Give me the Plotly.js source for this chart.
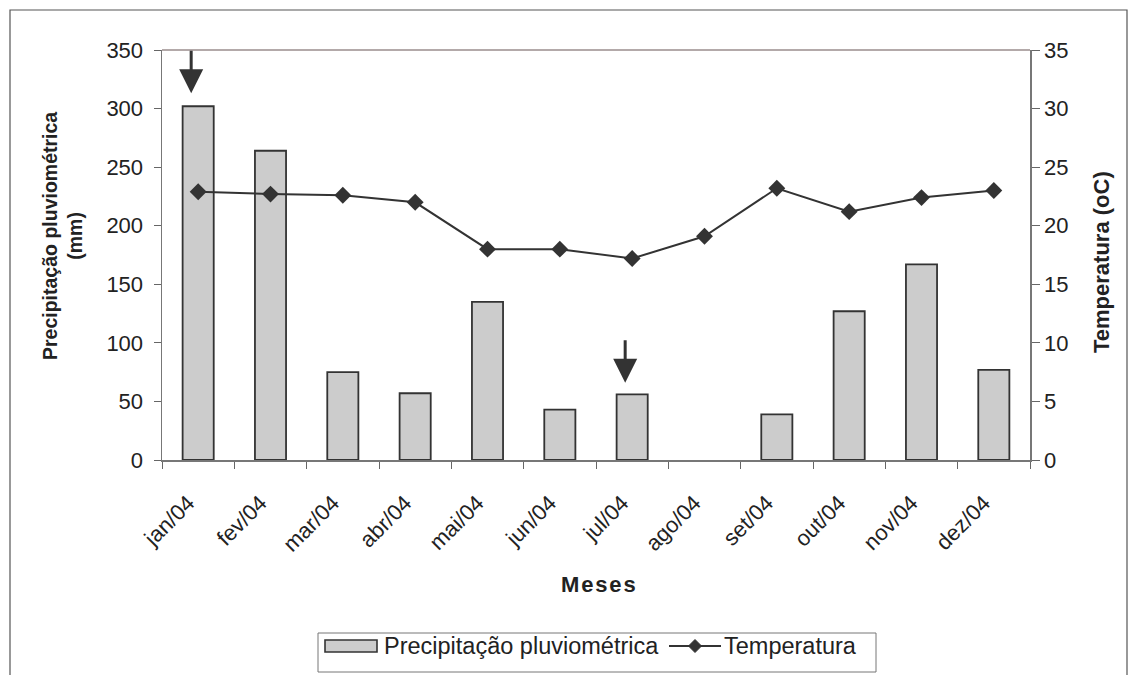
<!DOCTYPE html>
<html>
<head>
<meta charset="utf-8">
<script src="https://cdn.plot.ly/plotly-3.0.1.min.js"></script>
<style>
  html, body { margin: 0; padding: 0; background: #fff; overflow: hidden; }
  #chart { width: 1137px; height: 675px; }
</style>
</head>
<body>
<div id="chart"></div>
<script>
// Monthly rainfall (mm) and mean temperature (oC), 2004
const months = ['jan/04', 'fev/04', 'mar/04', 'abr/04', 'mai/04', 'jun/04',
                'jul/04', 'ago/04', 'set/04', 'out/04', 'nov/04', 'dez/04'];
const precipitation = [302, 264, 75, 57, 135, 43, 56, 0, 39, 127, 167, 77];
const temperature = [22.9, 22.7, 22.6, 22.0, 18.0, 18.0, 17.2, 19.1, 23.2, 21.2, 22.4, 23.0];
const precipTicks = [0, 50, 100, 150, 200, 250, 300, 350];
const tempTicks = [0, 5, 10, 15, 20, 25, 30, 35];
// months highlighted with an arrow, and the arrow tip level (mm)
const markedMonths = ['jan/04', 'jul/04'];
const markedTips = [313, 66];
const seriesNames = ['Precipitação pluviométrica', 'Temperatura'];

const FONT = 'Liberation Sans, Arial, sans-serif';
const INK = '#333333';
const TEXT = '#222222';
const BAR_FILL = '#cccccc';

// plot area in pixels, used to place the boxed legend below the axis
const W = 1137, H = 675;
const M = { l: 162, r: 107, t: 50, b: 215 };
const PW = W - M.l - M.r, PH = H - M.t - M.b;
const px = v => (v - M.l) / PW;          // page x -> paper x
const py = v => (H - M.b - v) / PH;      // page y -> paper y

const traces = [
  {
    type: 'bar',
    name: seriesNames[0],
    x: months,
    y: precipitation,
    yaxis: 'y',
    width: 0.43,
    marker: {
      color: BAR_FILL,
      // a dry month draws no outline along the axis
      line: { color: INK, width: precipitation.map(v => (v > 0 ? 1.8 : 0)) }
    },
    hoverinfo: 'x+y'
  },
  {
    type: 'scatter',
    mode: 'lines+markers',
    name: seriesNames[1],
    x: months,
    y: temperature,
    yaxis: 'y2',
    line: { color: INK, width: 2 },
    marker: { symbol: 'diamond', size: 13, color: INK },
    hoverinfo: 'x+y'
  }
];

const arrows = markedMonths.map((m, i) => ({
  x: m, y: markedTips[i], xref: 'x', yref: 'y',
  xshift: -7,
  text: '', showarrow: true,
  ax: 0, ay: -44,
  arrowhead: 2, arrowsize: 1.6, arrowwidth: 3, arrowcolor: INK
}));

// boxed legend: swatch for the bars, line-with-diamond for the temperature
const legendY = 646;
const dHalfX = 6.5 / PW, dHalfY = 6.5 / PH;
const dCx = px(695), dCy = py(legendY);
const legendShapes = [
  { type: 'rect', xref: 'paper', yref: 'paper',
    x0: px(318), x1: px(876), y0: py(672), y1: py(633),
    line: { color: '#777777', width: 1 }, fillcolor: '#ffffff' },
  { type: 'rect', xref: 'paper', yref: 'paper',
    x0: px(325), x1: px(377), y0: py(652), y1: py(640),
    line: { color: INK, width: 1.6 }, fillcolor: BAR_FILL },
  { type: 'line', xref: 'paper', yref: 'paper',
    x0: px(669), x1: px(721), y0: dCy, y1: dCy,
    line: { color: INK, width: 2 } },
  { type: 'path', xref: 'paper', yref: 'paper',
    path: `M ${dCx - dHalfX} ${dCy} L ${dCx} ${dCy + dHalfY} L ${dCx + dHalfX} ${dCy} L ${dCx} ${dCy - dHalfY} Z`,
    line: { color: INK, width: 1 }, fillcolor: INK }
];
const legendLabels = [
  { text: seriesNames[0], xref: 'paper', yref: 'paper',
    x: px(382), y: py(legendY), xanchor: 'left', yanchor: 'middle',
    showarrow: false, font: { size: 23.5, color: TEXT } },
  { text: seriesNames[1], xref: 'paper', yref: 'paper',
    x: px(722), y: py(legendY), xanchor: 'left', yanchor: 'middle',
    showarrow: false, font: { size: 23.5, color: TEXT } }
];

const layout = {
  width: W,
  height: H,
  margin: { l: M.l, r: M.r, t: M.t, b: M.b, autoexpand: false },
  paper_bgcolor: '#ffffff',
  plot_bgcolor: '#ffffff',
  font: { family: FONT, size: 22, color: TEXT },
  showlegend: false,
  xaxis: {
    type: 'category',
    range: [-0.5, months.length - 0.5],
    tickangle: -45,
    ticks: 'outside',
    tickson: 'boundaries',
    ticklen: 7,
    tickcolor: '#666666',
    ticklabelstandoff: 20,
    ticklabelshift: -10,
    showline: true,
    linecolor: '#777777',
    linewidth: 1.5,
    showgrid: false,
    zeroline: false,
    tickfont: { size: 22 },
    fixedrange: true
  },
  yaxis: {
    range: [0, 350],
    tickvals: precipTicks,
    ticks: 'outside',
    ticklen: 7,
    tickcolor: '#666666',
    ticklabelstandoff: 6,
    showline: true,
    linecolor: '#777777',
    linewidth: 1.5,
    showgrid: false,
    zeroline: false,
    tickfont: { size: 22 },
    fixedrange: true
  },
  yaxis2: {
    overlaying: 'y',
    side: 'right',
    range: [0, 35],
    tickvals: tempTicks,
    ticks: 'outside',
    ticklen: 8,
    tickcolor: '#666666',
    showline: true,
    linecolor: '#777777',
    linewidth: 1.5,
    showgrid: false,
    zeroline: false,
    tickfont: { size: 22 },
    fixedrange: true
  },
  annotations: [
    ...arrows,
    {
      text: '<b>Precipitação pluviométrica<br>(mm)</b>',
      xref: 'paper', yref: 'paper', x: 0, y: 0.5,
      xanchor: 'center', yanchor: 'middle',
      xshift: -100, yshift: 19, textangle: -90,
      showarrow: false, font: { size: 19.5, color: TEXT }
    },
    {
      text: '<b>Temperatura (oC)</b>',
      xref: 'paper', yref: 'paper', x: 1, y: 0.5,
      xanchor: 'center', yanchor: 'middle',
      xshift: 71, yshift: -7, textangle: -90,
      showarrow: false, font: { size: 22, color: TEXT }
    },
    {
      text: '<b>M\u200Ae\u200As\u200Ae\u200As</b>',
      xref: 'paper', yref: 'paper', x: 0.5, y: 0,
      xanchor: 'center', yanchor: 'middle',
      xshift: 2, yshift: -124, showarrow: false,
      font: { size: 22, color: TEXT }
    },
    ...legendLabels
  ],
  shapes: [
    // top edge of the plotting area
    { type: 'line', xref: 'paper', yref: 'paper', x0: 0, x1: 1, y0: 1, y1: 1,
      line: { color: '#9a8c8c', width: 1.5 } },
    // outer chart frame
    { type: 'rect', xref: 'paper', yref: 'paper',
      x0: px(10), x1: px(1127), y0: py(690), y1: py(10),
      line: { color: '#555555', width: 1.2 }, fillcolor: 'rgba(0,0,0,0)' },
    ...legendShapes
  ]
};

Plotly.newPlot('chart', traces, layout, { displayModeBar: false, staticPlot: true });
</script>
</body>
</html>
